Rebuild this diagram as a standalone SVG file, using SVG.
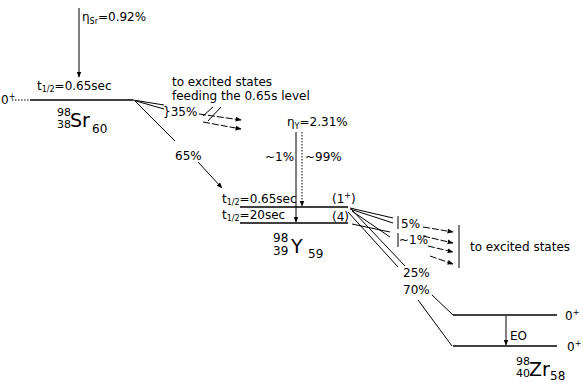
<svg xmlns="http://www.w3.org/2000/svg" width="583" height="382" viewBox="0 0 583 382">
<defs>
<marker id="ah" viewBox="0 0 10 10" refX="9" refY="5" markerWidth="6" markerHeight="6" orient="auto-start-reverse" markerUnits="userSpaceOnUse">
<path d="M0,1 L10,5 L0,9 Z" fill="#000"/>
</marker>
</defs>
<style>
text{font-family:"DejaVu Sans","Liberation Sans",sans-serif;fill:#000;font-size:12px}
.lvl{stroke:#000;stroke-width:1.6;fill:none}
.ln{stroke:#000;stroke-width:1;fill:none}
.da{stroke:#000;stroke-width:1;fill:none;stroke-dasharray:7 2}
.dt{stroke:#000;stroke-width:1;fill:none;stroke-dasharray:1.5 1.5}
.arr{marker-end:url(#ah)}
.sm{font-size:8px}
.iso{font-size:11px}
.el{font-size:19px}
</style>
<rect width="583" height="382" fill="#fff"/>

<g id="sr98">
<text x="1" y="104">0<tspan class="sm" dy="-5">+</tspan></text>
<line class="dt" x1="12" y1="100" x2="30" y2="100"/>
<line class="lvl" x1="30" y1="100" x2="133" y2="100"/>
<text x="37" y="90">t<tspan class="sm" dy="2">1/2</tspan><tspan dy="-2">=0.65sec</tspan></text>
<text class="iso" x="57" y="116">98</text>
<text class="iso" x="57" y="128">38</text>
<text class="el" x="70" y="127">Sr</text>
<text x="92" y="133">60</text>
</g>

<g id="y98">
<line class="lvl" x1="240" y1="207" x2="348" y2="207"/>
<line class="lvl" x1="240" y1="223" x2="348" y2="223"/>
<text x="222" y="203">t<tspan class="sm" dy="2">1/2</tspan><tspan dy="-2">=0.65sec</tspan></text>
<text x="222" y="219">t<tspan class="sm" dy="2">1/2</tspan><tspan dy="-2">=20sec</tspan></text>
<text x="332" y="203">(1<tspan class="sm" dy="-5">+</tspan><tspan dy="5">)</tspan></text>
<text x="332" y="221">(4)</text>
<text x="273" y="242">98</text>
<text x="273" y="255">39</text>
<text class="el" x="291" y="253">Y</text>
<text x="308" y="258">59</text>
</g>

<g id="zr98">
<line class="lvl" x1="453" y1="315" x2="557" y2="315"/>
<line class="lvl" x1="453" y1="346" x2="557" y2="346"/>
<text x="565" y="320">0<tspan class="sm" dy="-5">+</tspan></text>
<text x="567" y="351">0<tspan class="sm" dy="-5">+</tspan></text>
<text class="iso" x="516" y="365">98</text>
<text class="iso" x="516" y="377">40</text>
<text class="el" x="529" y="376">Zr</text>
<text x="550" y="380">58</text>
</g>

<g id="labels">
<text x="82" y="21">η<tspan class="sm" dy="3">Sr</tspan><tspan dy="-3">=0.92%</tspan></text>
<text x="172" y="86">to excited states</text>
<text x="172" y="100">feeding the 0.65s level</text>
<text x="163" y="116">}35%</text>
<text x="175" y="160">65%</text>
<text x="287" y="126">η<tspan class="sm" dy="3">Y</tspan><tspan dy="-3">=2.31%</tspan></text>
<text x="265" y="161">~1%</text>
<text x="305" y="161">~99%</text>
<text x="401" y="228">5%</text>
<text x="399" y="244">~1%</text>
<text x="470" y="251">to excited states</text>
<text x="403" y="277">25%</text>
<text x="403" y="294">70%</text>
<text x="510" y="340">EO</text>
</g>

<g id="connectors">
<line class="ln arr" x1="79" y1="8" x2="79" y2="77"/>
<line class="ln" x1="133" y1="100" x2="164" y2="105"/>
<line class="ln" x1="136" y1="101" x2="164" y2="109"/>
<line class="da arr" x1="199" y1="114" x2="241" y2="120"/>
<line class="da arr" x1="203" y1="122" x2="241" y2="129"/>
<line class="ln" x1="203" y1="116" x2="213" y2="107"/>
<line class="ln" x1="208" y1="121" x2="221" y2="107"/>
<line class="ln" x1="135" y1="101" x2="175" y2="141"/>
<line class="ln arr" x1="198" y1="162" x2="222" y2="188"/>
<line class="ln arr" x1="296" y1="132" x2="296" y2="222"/>
<line class="dt arr" x1="302" y1="132" x2="302" y2="206"/>
<line class="ln" x1="350" y1="208" x2="393" y2="218"/>
<line class="ln" x1="350" y1="209" x2="393" y2="223"/>
<line class="ln" x1="398" y1="216" x2="398" y2="229"/>
<line class="ln" x1="352" y1="224" x2="390" y2="232"/>
<line class="ln" x1="352" y1="211" x2="390" y2="237"/>
<line class="ln" x1="398" y1="233" x2="398" y2="247"/>
<line class="da arr" x1="423" y1="227" x2="453" y2="232"/>
<line class="da arr" x1="423" y1="236" x2="453" y2="243"/>
<line class="da arr" x1="428" y1="246" x2="453" y2="252"/>
<line class="da arr" x1="430" y1="256" x2="453" y2="264"/>
<line class="ln" x1="459" y1="225" x2="459" y2="268"/>
<line class="ln" x1="351" y1="209" x2="405" y2="266"/>
<line class="ln" x1="348" y1="212" x2="398" y2="267"/>
<line class="ln" x1="432" y1="295" x2="453" y2="315"/>
<line class="ln" x1="418" y1="300" x2="452" y2="346"/>
<line class="ln arr" x1="506" y1="316" x2="506" y2="345"/>
</g>
</svg>
